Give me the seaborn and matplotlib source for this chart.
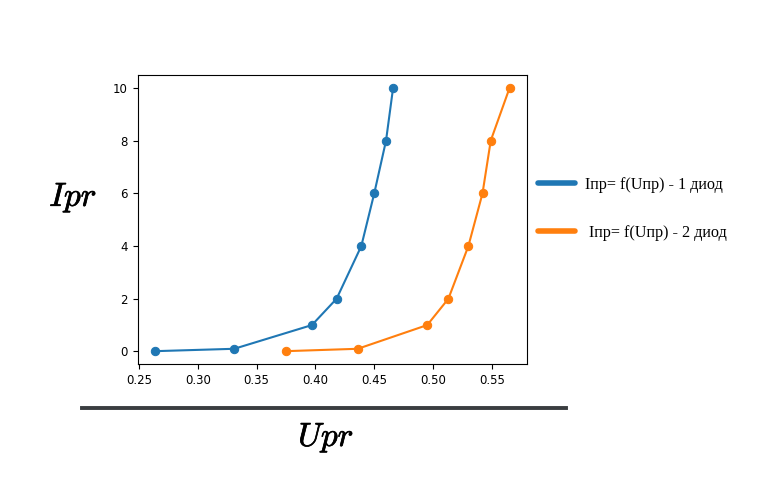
import pandas as pd
import matplotlib.pyplot as plt
import matplotlib.patheffects as pe
import seaborn as sns
from matplotlib.lines import Line2D

# ---- Data ----
u_diod1 = [0.264, 0.331, 0.397, 0.418, 0.439, 0.450, 0.460, 0.466]
i_diod1 = [0.01, 0.1, 1, 2, 4, 6, 8, 10]
u_diod2 = [0.375, 0.436, 0.495, 0.513, 0.530, 0.542, 0.549, 0.565]
i_diod2 = [0.01, 0.1, 1, 2, 4, 6, 8, 10]
labels = ["Iпр= f(Uпр) - 1 диод", " Iпр= f(Uпр) - 2 диод"]
colors = ["#1f77b4", "#ff7f0e"]

df1 = pd.DataFrame({"U": u_diod1, "I": i_diod1})
df2 = pd.DataFrame({"U": u_diod2, "I": i_diod2})

plt.rcParams["mathtext.fontset"] = "cm"

fig = plt.figure(figsize=(7.71, 4.95), dpi=100)
ax = fig.add_axes([0.1786, 0.264, 0.5053, 0.585])

for d, c in zip([df1, df2], colors):
    sns.lineplot(data=d, x="U", y="I", ax=ax, sort=False, color=c,
                 marker="o", markersize=6, markeredgecolor=c, linewidth=1.5)

ax.tick_params(labelsize=8.5)
ax.set_xticks([0.25, 0.30, 0.35, 0.40, 0.45, 0.50, 0.55])
ax.set_xticklabels(["0.25", "0.30", "0.35", "0.40", "0.45", "0.50", "0.55"])
ax.set_yticks([0, 2, 4, 6, 8, 10])
ax.set_xlabel("")
ax.set_ylabel("")

# big labels outside the axes
bold = [pe.withStroke(linewidth=0.5, foreground="black")]
fig.text(0.095, 0.60, r"$Ipr$", fontsize=24, ha="center", va="center", path_effects=bold)
fig.text(0.423, 0.115, r"$Upr$", fontsize=24, ha="center", va="center", path_effects=bold)
fig.add_artist(Line2D([82 / 771, 566 / 771], [1 - 407.5 / 495, 1 - 407.5 / 495],
                      color="#3a3d40", linewidth=2.8, transform=fig.transFigure))

# legend with thick lines
handles = [Line2D([0], [0], color=c, linewidth=4, solid_capstyle="round") for c in colors]
ax.legend(handles, labels, loc="center left", bbox_to_anchor=(0.99, 0.537),
          frameon=False, labelspacing=1.95, handlelength=2.3, handletextpad=0.65,
          prop={"family": "Liberation Serif", "size": 11.6})

fig.savefig("out.png", dpi=100)
